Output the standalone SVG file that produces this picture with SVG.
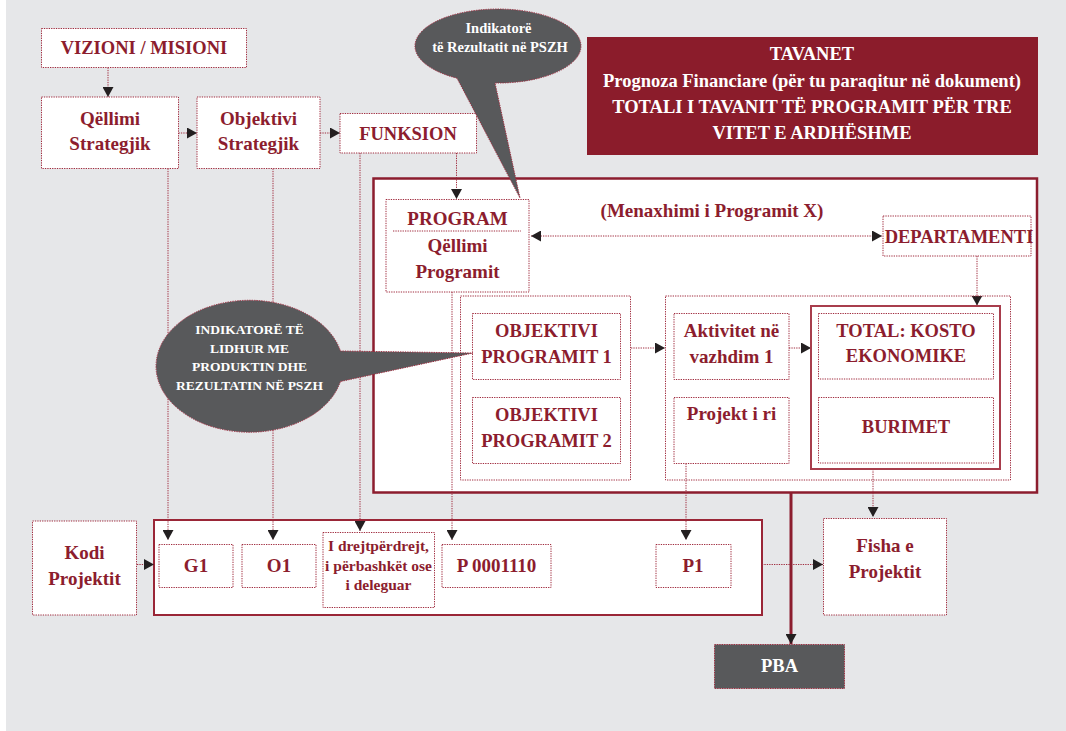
<svg xmlns="http://www.w3.org/2000/svg" width="1066" height="731" viewBox="0 0 1066 731">
<defs>
<style>
.box{fill:#fff;stroke:#a02c3f;stroke-width:1;stroke-dasharray:1.3 1.1}
.cont{fill:none;stroke:#a02c3f;stroke-width:1;stroke-dasharray:1.3 1.1}
.t{font-family:"Liberation Serif","Times New Roman",serif;font-weight:bold;fill:#8c1d2e;text-anchor:middle;font-size:19px}
.w{fill:#fff}
.s18{font-size:18.5px}
.s185{font-size:18.5px}
.s155{font-size:15.5px}
.s13{font-size:14.5px}
.s125{font-size:13.5px}
.c{fill:none;stroke:#a02c3f;stroke-width:1;stroke-dasharray:1.3 1.1}
.callout{fill:#58595b;stroke:#a02c3f;stroke-width:1;stroke-dasharray:1.3 1.1}
</style>
<marker id="ah" viewBox="0 0 10 11" refX="10" refY="5.5" markerWidth="10" markerHeight="11" markerUnits="userSpaceOnUse" orient="auto-start-reverse">
<path d="M0,0 L10,5.5 L0,11 z" fill="#231f20"/>
</marker>
</defs>
<rect x="0" y="0" width="1066" height="731" fill="#fff"/>
<rect x="6" y="0" width="1060" height="731" fill="#e6e7e9"/>

<g id="red-header">
<rect x="587" y="37" width="451" height="118" fill="#8b1c2b"/>
<text class="t w s18" x="812" y="60">TAVANET</text>
<text class="t w s18" x="812" y="86.5">Prognoza Financiare (për tu paraqitur në dokument)</text>
<text class="t w s18" x="812" y="113">TOTALI I TAVANIT TË PROGRAMIT PËR TRE</text>
<text class="t w s18" x="812" y="138.5">VITET E ARDHËSHME</text>
</g>

<g id="program-area">
<rect x="373.5" y="178.5" width="663.5" height="314" fill="#fff" stroke="#8c1d2e" stroke-width="2.5"/>
</g>

<g id="bottom-row">
<rect x="154" y="520" width="608" height="95" fill="#fff" stroke="#9a2637" stroke-width="2"/>
</g>

<g id="connectors">
<path class="c" d="M108,67.5 V97" marker-end="url(#ah)"/>
<path class="c" d="M178.5,133 H197" marker-end="url(#ah)"/>
<path class="c" d="M320,133 H340" marker-end="url(#ah)"/>
<path class="c" d="M456.5,153 V199" marker-end="url(#ah)"/>
<path class="c" d="M360,153 V531" marker-end="url(#ah)"/>
<path class="c" d="M168,168.5 V540" marker-end="url(#ah)"/>
<path class="c" d="M273,168.5 V540" marker-end="url(#ah)"/>
<path class="c" d="M452,292 V540" marker-end="url(#ah)"/>
<path class="c" d="M531,236 H882" marker-start="url(#ah)" marker-end="url(#ah)"/>
<path class="c" d="M977,256 V305.5" marker-end="url(#ah)"/>
<path class="c" d="M631,348 H665" marker-end="url(#ah)"/>
<path class="c" d="M789,348 H811" marker-end="url(#ah)"/>
<path class="c" d="M686,463.5 V540" marker-end="url(#ah)"/>
<path class="c" d="M873,469 V517" marker-end="url(#ah)"/>
<path class="c" d="M762,564.5 H823" marker-end="url(#ah)"/>
<path class="c" d="M137,564.5 H154" marker-end="url(#ah)"/>
<path d="M791,493 V644" fill="none" stroke="#8c1d2e" stroke-width="3" marker-end="url(#ah)"/>
</g>

<g id="vizioni">
<rect class="box" x="41.5" y="28.5" width="205" height="39"/>
<text class="t s185" x="144" y="53.5">VIZIONI / MISIONI</text>
</g>
<g id="qellimi-strategjik">
<rect class="box" x="41.5" y="97" width="137" height="71.5"/>
<text class="t" x="110" y="125">Qëllimi</text>
<text class="t" x="110" y="150">Strategjik</text>
</g>
<g id="objektivi-strategjik">
<rect class="box" x="197" y="97" width="123" height="71.5"/>
<text class="t" x="258.5" y="125">Objektivi</text>
<text class="t" x="258.5" y="150">Strategjik</text>
</g>
<g id="funksion">
<rect class="box" x="340" y="113.5" width="136.5" height="39.5"/>
<text class="t s185" x="408" y="140">FUNKSION</text>
</g>

<g id="program">
<rect class="box" x="386" y="199.5" width="143" height="92.5"/>
<text class="t" x="457.5" y="225">PROGRAM</text>
<line class="c" x1="393" y1="231" x2="521" y2="231"/>
<text class="t" x="457.5" y="251.5">Qëllimi</text>
<text class="t" x="457.5" y="277.5">Programit</text>
</g>
<g id="menaxhimi">
<text class="t" x="712" y="217">(Menaxhimi i Programit X)</text>
</g>
<g id="departamenti">
<rect class="box" x="883" y="216" width="148" height="40"/>
<text class="t s185" x="959" y="243">DEPARTAMENTI</text>
</g>

<g id="objektivat">
<rect class="cont" x="460.5" y="296" width="170" height="184"/>
</g>
<g id="objektivi-1">
<rect class="box" x="472.5" y="313.5" width="148" height="66"/>
<text class="t s185" x="546.5" y="337">OBJEKTIVI</text>
<text class="t s185" x="546.5" y="363">PROGRAMIT 1</text>
</g>
<g id="objektivi-2">
<rect class="box" x="472.5" y="397.5" width="148" height="66"/>
<text class="t s185" x="546.5" y="421">OBJEKTIVI</text>
<text class="t s185" x="546.5" y="447">PROGRAMIT 2</text>
</g>

<g id="aktivitetet">
<rect class="cont" x="665.5" y="296" width="345" height="184"/>
</g>
<g id="aktivitet-1">
<rect class="box" x="674" y="313.5" width="115" height="66"/>
<text class="t" x="731.5" y="337">Aktivitet në</text>
<text class="t" x="731.5" y="363">vazhdim 1</text>
</g>
<g id="projekt-i-ri">
<rect class="box" x="674" y="397.5" width="115" height="66"/>
<text class="t" x="731.5" y="420">Projekt i ri</text>
</g>

<g id="total">
<rect x="811" y="306" width="189" height="163" fill="#fff" stroke="#a83d4c" stroke-width="2"/>
</g>
<g id="kosto">
<rect class="box" x="818.5" y="313.5" width="175" height="65.5"/>
<text class="t s185" x="906" y="337">TOTAL: KOSTO</text>
<text class="t s185" x="906" y="362">EKONOMIKE</text>
</g>
<g id="burimet">
<rect class="box" x="818.5" y="397.5" width="175" height="65.5"/>
<text class="t s185" x="906" y="433">BURIMET</text>
</g>

<g id="kodi-projektit">
<rect class="box" x="32.5" y="521" width="104" height="94"/>
<text class="t" x="84.5" y="558.5">Kodi</text>
<text class="t" x="84.5" y="584.5">Projektit</text>
</g>
<g id="g1">
<rect class="box" x="159" y="544.5" width="74" height="43"/>
<text class="t" x="196" y="572">G1</text>
</g>
<g id="o1">
<rect class="box" x="242" y="544.5" width="74" height="43"/>
<text class="t" x="279" y="572">O1</text>
</g>
<g id="i-drejtperdrejt">
<rect class="box" x="323" y="532.5" width="111.5" height="75"/>
<text class="t s155" x="378.5" y="550.5">I drejtpërdrejt,</text>
<text class="t s155" x="378.5" y="570.5">i përbashkët ose</text>
<text class="t s155" x="378.5" y="590">i deleguar</text>
</g>
<g id="p0001110">
<rect class="box" x="442" y="544.5" width="109" height="43"/>
<text class="t" x="496.5" y="572">P 0001110</text>
</g>
<g id="p1">
<rect class="box" x="656" y="544.5" width="75" height="43"/>
<text class="t" x="693" y="572">P1</text>
</g>

<g id="fisha-projektit">
<rect class="box" x="823.5" y="518.5" width="123" height="96.5"/>
<text class="t" x="885" y="552">Fisha e</text>
<text class="t" x="885" y="578">Projektit</text>
</g>
<g id="pba">
<rect x="714.5" y="644.5" width="130" height="44" fill="#58595b" stroke="#a02c3f" stroke-width="1" stroke-dasharray="1.3 1.1"/>
<text class="t w s18" x="779.5" y="672">PBA</text>
</g>

<g id="callout-rezultatit">
<path class="callout" d="M457,78.2 A83,37 0 1 1 495,83 L520,198 Z"/>
<text class="t w s13" x="498.5" y="32.5">Indikatorë</text>
<text class="t w s13" x="500" y="52">të Rezultatit në PSZH</text>
</g>
<g id="callout-produktin">
<path class="callout" d="M340.5,381.5 A93.5,66 0 1 1 340.5,351 L473,353 Z"/>
<text class="t w s125" x="249.5" y="333.5">INDIKATORË TË</text>
<text class="t w s125" x="249.5" y="352.5">LIDHUR ME</text>
<text class="t w s125" x="249.5" y="371">PRODUKTIN DHE</text>
<text class="t w s125" x="249.5" y="390">REZULTATIN NË PSZH</text>
</g>
</svg>
